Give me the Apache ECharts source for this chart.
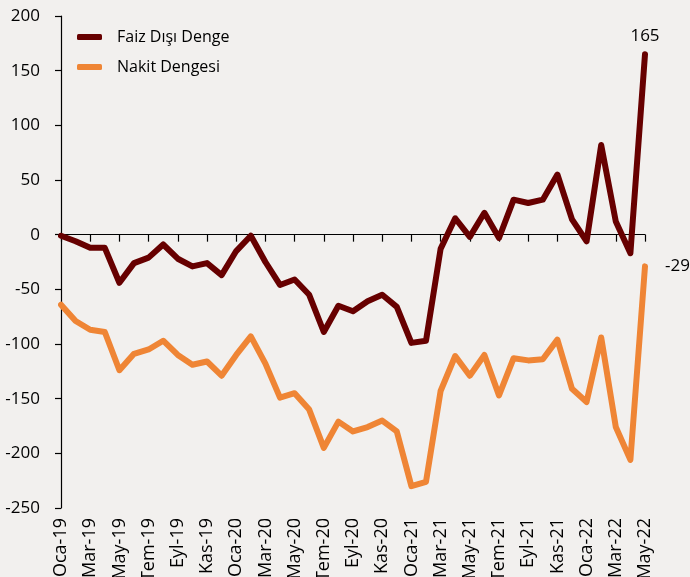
<!DOCTYPE html>
<html>
<head>
<meta charset="utf-8">
<script src="https://cdn.jsdelivr.net/npm/echarts@6/dist/echarts.min.js"></script>
<style>
  html, body { margin: 0; padding: 0; background: #f2f0ee; }
  #chart { width: 690px; height: 577px; }
</style>
</head>
<body>
<div id="chart"></div>
<script>
// aylar (Oca-19 .. May-22)
const months = ['Oca','Şub','Mar','Nis','May','Haz','Tem','Ağu','Eyl','Eki','Kas','Ara']
const years = ['19','20','21','22']
const categories = []
years.forEach(y => months.forEach(m => categories.push(m + '-' + y)))
categories.length = 41

// Faiz Dışı Denge
const faizDisi = [-1, -6, -12, -12, -44, -26, -21, -9, -22, -29, -26, -37,
  -15, -1, -25, -46, -41, -55, -89, -65, -70, -61, -55, -66,
  -99, -97, -13, 15, -2, 20, -3, 32, 29, 32, 55, 14, -6, 82, 12, -17, 165]

// Nakit Dengesi
const nakit = [-64, -79, -87, -89, -124, -109, -105, -97, -110, -119, -116, -129,
  -110, -93, -118, -149, -145, -160, -195, -171, -180, -176, -170, -180,
  -230, -226, -143, -111, -129, -110, -147, -113, -115, -114, -96, -141, -153, -94, -176, -206, -29]

const font = 'Open Sans'

// son noktaya etiket
function withLastLabel(arr, pos, dist) {
  return arr.map((v, i) => i === arr.length - 1
    ? { value: v, label: { show: true, position: pos, color: '#000', fontSize: 17, fontFamily: font, distance: dist } }
    : v)
}

const chart = echarts.init(document.getElementById('chart'))
const option = {
  backgroundColor: '#f2f0ee',
  animation: false,
  grid: { left: 61, right: 45, top: 16, bottom: 69, outerBoundsMode: 'none' },
  legend: {
    orient: 'vertical',
    left: 72,
    top: 24,
    itemGap: 14,
    itemWidth: 25,
    itemHeight: 6,
    icon: 'roundRect',
    textStyle: { color: '#000', fontSize: 16, fontFamily: font, padding: [0, 0, 0, 10] },
    data: ['Faiz Dışı Denge', 'Nakit Dengesi']
  },
  xAxis: [
    {
      // sıfır çizgisi + tikler
      type: 'category',
      data: categories,
      boundaryGap: false,
      axisLine: { onZero: true, lineStyle: { color: '#000', width: 1.2 } },
      axisTick: { show: true, interval: 1, length: 7, inside: false, lineStyle: { color: '#000', width: 1.2 } },
      axisLabel: { show: false }
    },
    {
      // alttaki etiketler
      type: 'category',
      data: categories,
      boundaryGap: false,
      position: 'bottom',
      axisLine: { show: false, onZero: false },
      axisTick: { show: false },
      axisLabel: { interval: 1, rotate: 90, margin: 10, color: '#000', fontSize: 18, fontFamily: font, hideOverlap: false }
    }
  ],
  yAxis: {
    type: 'value',
    min: -250,
    max: 200,
    interval: 50,
    axisLine: { show: true, lineStyle: { color: '#000', width: 1.2 } },
    axisTick: { show: true, length: 6, lineStyle: { color: '#000', width: 1.2 } },
    axisLabel: { color: '#000', fontSize: 17, fontFamily: font, margin: 21 },
    splitLine: { show: false }
  },
  series: [
    {
      name: 'Faiz Dışı Denge',
      type: 'line',
      xAxisIndex: 0,
      data: withLastLabel(faizDisi, 'top', 10),
      symbol: 'circle',
      symbolSize: 0,
      color: '#670000',
      lineStyle: { width: 6, color: '#670000', cap: 'round', join: 'round' },
      z: 3
    },
    {
      name: 'Nakit Dengesi',
      type: 'line',
      xAxisIndex: 0,
      data: withLastLabel(nakit, 'right', 20),
      symbol: 'circle',
      symbolSize: 0,
      color: '#ef8535',
      lineStyle: { width: 6, color: '#ef8535', cap: 'round', join: 'round' },
      z: 2
    }
  ]
}
chart.setOption(option)
</script>
</body>
</html>
